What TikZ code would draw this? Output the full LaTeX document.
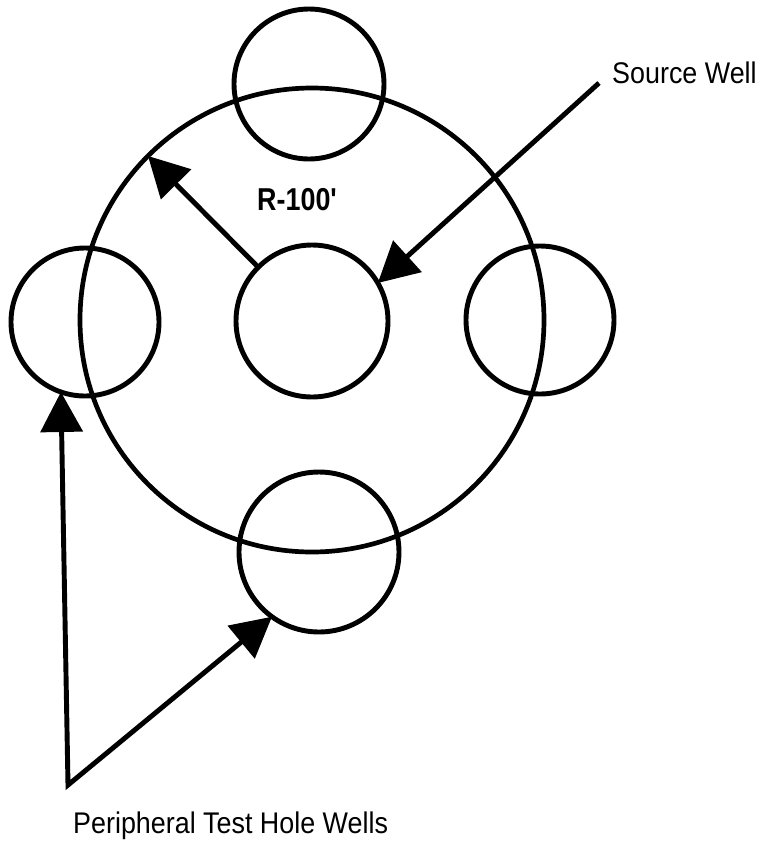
\documentclass[tikz,border=0pt]{standalone}
\usepackage{fontspec}
\setmainfont{Liberation Sans}
\newfontfamily\narrowsans[FakeStretch=0.9]{Liberation Sans}
\newfontfamily\narrowbold[FakeStretch=0.85]{Liberation Sans Bold}
\usetikzlibrary{arrows.meta}
\tikzset{
  well/.style={circle, draw, line width=4.2pt, inner sep=0pt, outer sep=0pt, minimum size=#1},
  ring/.style={circle, draw, line width=4pt, inner sep=0pt, outer sep=0pt, minimum size=139.2mm},
  arr/.style={-{Triangle[length=12mm, width=12.5mm]}, line width=4.2pt},
  darr/.style={{Triangle[length=12mm, width=12.5mm]}-{Triangle[length=12mm, width=12.5mm]}, line width=4.2pt},
  lbl/.style={font=\narrowsans\fontsize{25.5pt}{28pt}\selectfont, inner sep=0pt},
}
\begin{document}
\begin{tikzpicture}[x=0.3mm, y=-0.3mm]
  \useasboundingbox (0,0) rectangle (763,841);

  % test circle of radius 100 ft
  \node[ring] (ring) at (312,320) {};

  % wells
  \node[well=45.6mm] (source) at (312,321) {};
  \node[well=45mm] (top) at (309,84) {};
  \node[well=44.4mm] (left) at (85,322) {};
  \node[well=44.4mm] (right) at (540,320) {};
  \node[well=48mm] (bottom) at (319,552) {};

  % radius
  \draw[arr] (source.135) -- (ring.135);
  \node[lbl, font=\narrowbold\fontsize{27pt}{30pt}\selectfont, anchor=base west] (rad) at (257,210) {R-100\char"27};

  % labels and pointers
  \node[lbl, anchor=base west] (srclbl) at (612,83) {Source Well};
  \coordinate (srcend) at (599,83);
  \draw[arr] (srcend) -- (source.30);

  \node[lbl, anchor=base west] (perlbl) at (73,833) {Peripheral Test Hole Wells};
  \coordinate (vtx) at (68,785);
  \draw[darr] (left.251) -- (vtx) -- (bottom.234);
\end{tikzpicture}
\end{document}
